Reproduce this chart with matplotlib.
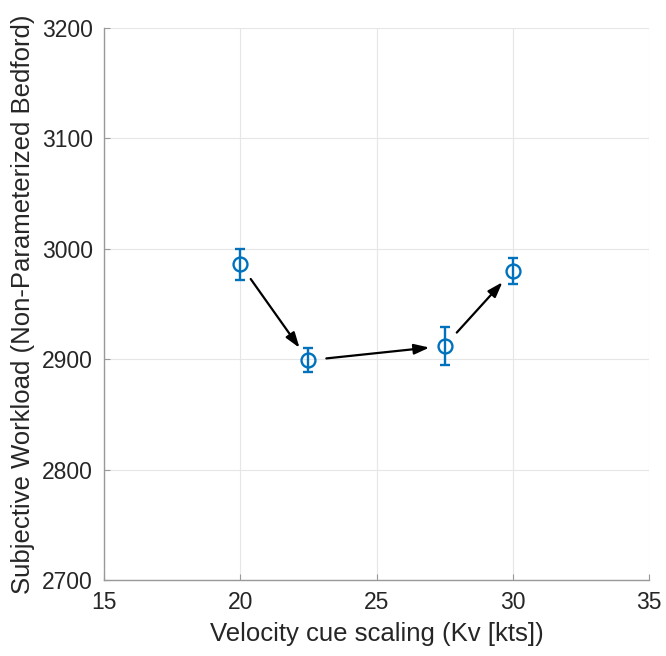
import matplotlib
matplotlib.use("Agg")
import matplotlib.pyplot as plt

plt.rcParams['font.family'] = ['Liberation Sans', 'DejaVu Sans']

# Mean subjective workload per velocity cue scaling, with error bars
kv = [20.0, 22.5, 27.5, 30.0]
workload = [2986, 2899, 2912, 2980]
err = [14, 11, 17, 12]

xticks = [15, 20, 25, 30, 35]
yticks = [2700, 2800, 2900, 3000, 3100, 3200]

fig = plt.figure(figsize=(6.66, 6.56), dpi=100)
ax = fig.add_axes([104/666, 1 - 580/656, (649-104)/666, (580-28)/656])

blue = '#0072BD'
ax.errorbar(kv, workload, yerr=err, fmt='o', color=blue, mfc='none',
            mec=blue, ms=10, mew=1.7, elinewidth=1.7, capsize=3.5,
            capthick=1.7, zorder=3)

# Arrows connecting consecutive conditions
for i in range(len(kv) - 1):
    ax.annotate('', xy=(kv[i+1], workload[i+1]), xytext=(kv[i], workload[i]),
                arrowprops=dict(arrowstyle='-|>,head_length=0.65,head_width=0.22',
                                color='black', lw=1.6,
                                shrinkA=13, shrinkB=11, mutation_scale=14),
                zorder=2)

ax.set_xlim(15, 35)
ax.set_ylim(2700, 3200)
ax.set_xticks(xticks)
ax.set_yticks(yticks)
ax.grid(True, color='#e6e6e6', lw=0.8)
ax.set_axisbelow(True)
for s in ['top', 'right']:
    ax.spines[s].set_visible(False)
for s in ['left', 'bottom']:
    ax.spines[s].set_color('#999999')
    ax.spines[s].set_linewidth(1.0)
ax.tick_params(direction='in', length=4, width=0.8, color='#999999',
               labelcolor='#262626', labelsize=16.5, pad=8)

ax.set_xlabel('Velocity cue scaling (Kv [kts])', fontsize=18.5,
              color='#262626', labelpad=6)
ax.set_ylabel('Subjective Workload (Non-Parameterized Bedford)',
              fontsize=18.5, color='#262626', labelpad=5)

fig.savefig('out.png', dpi=100, facecolor='white')
